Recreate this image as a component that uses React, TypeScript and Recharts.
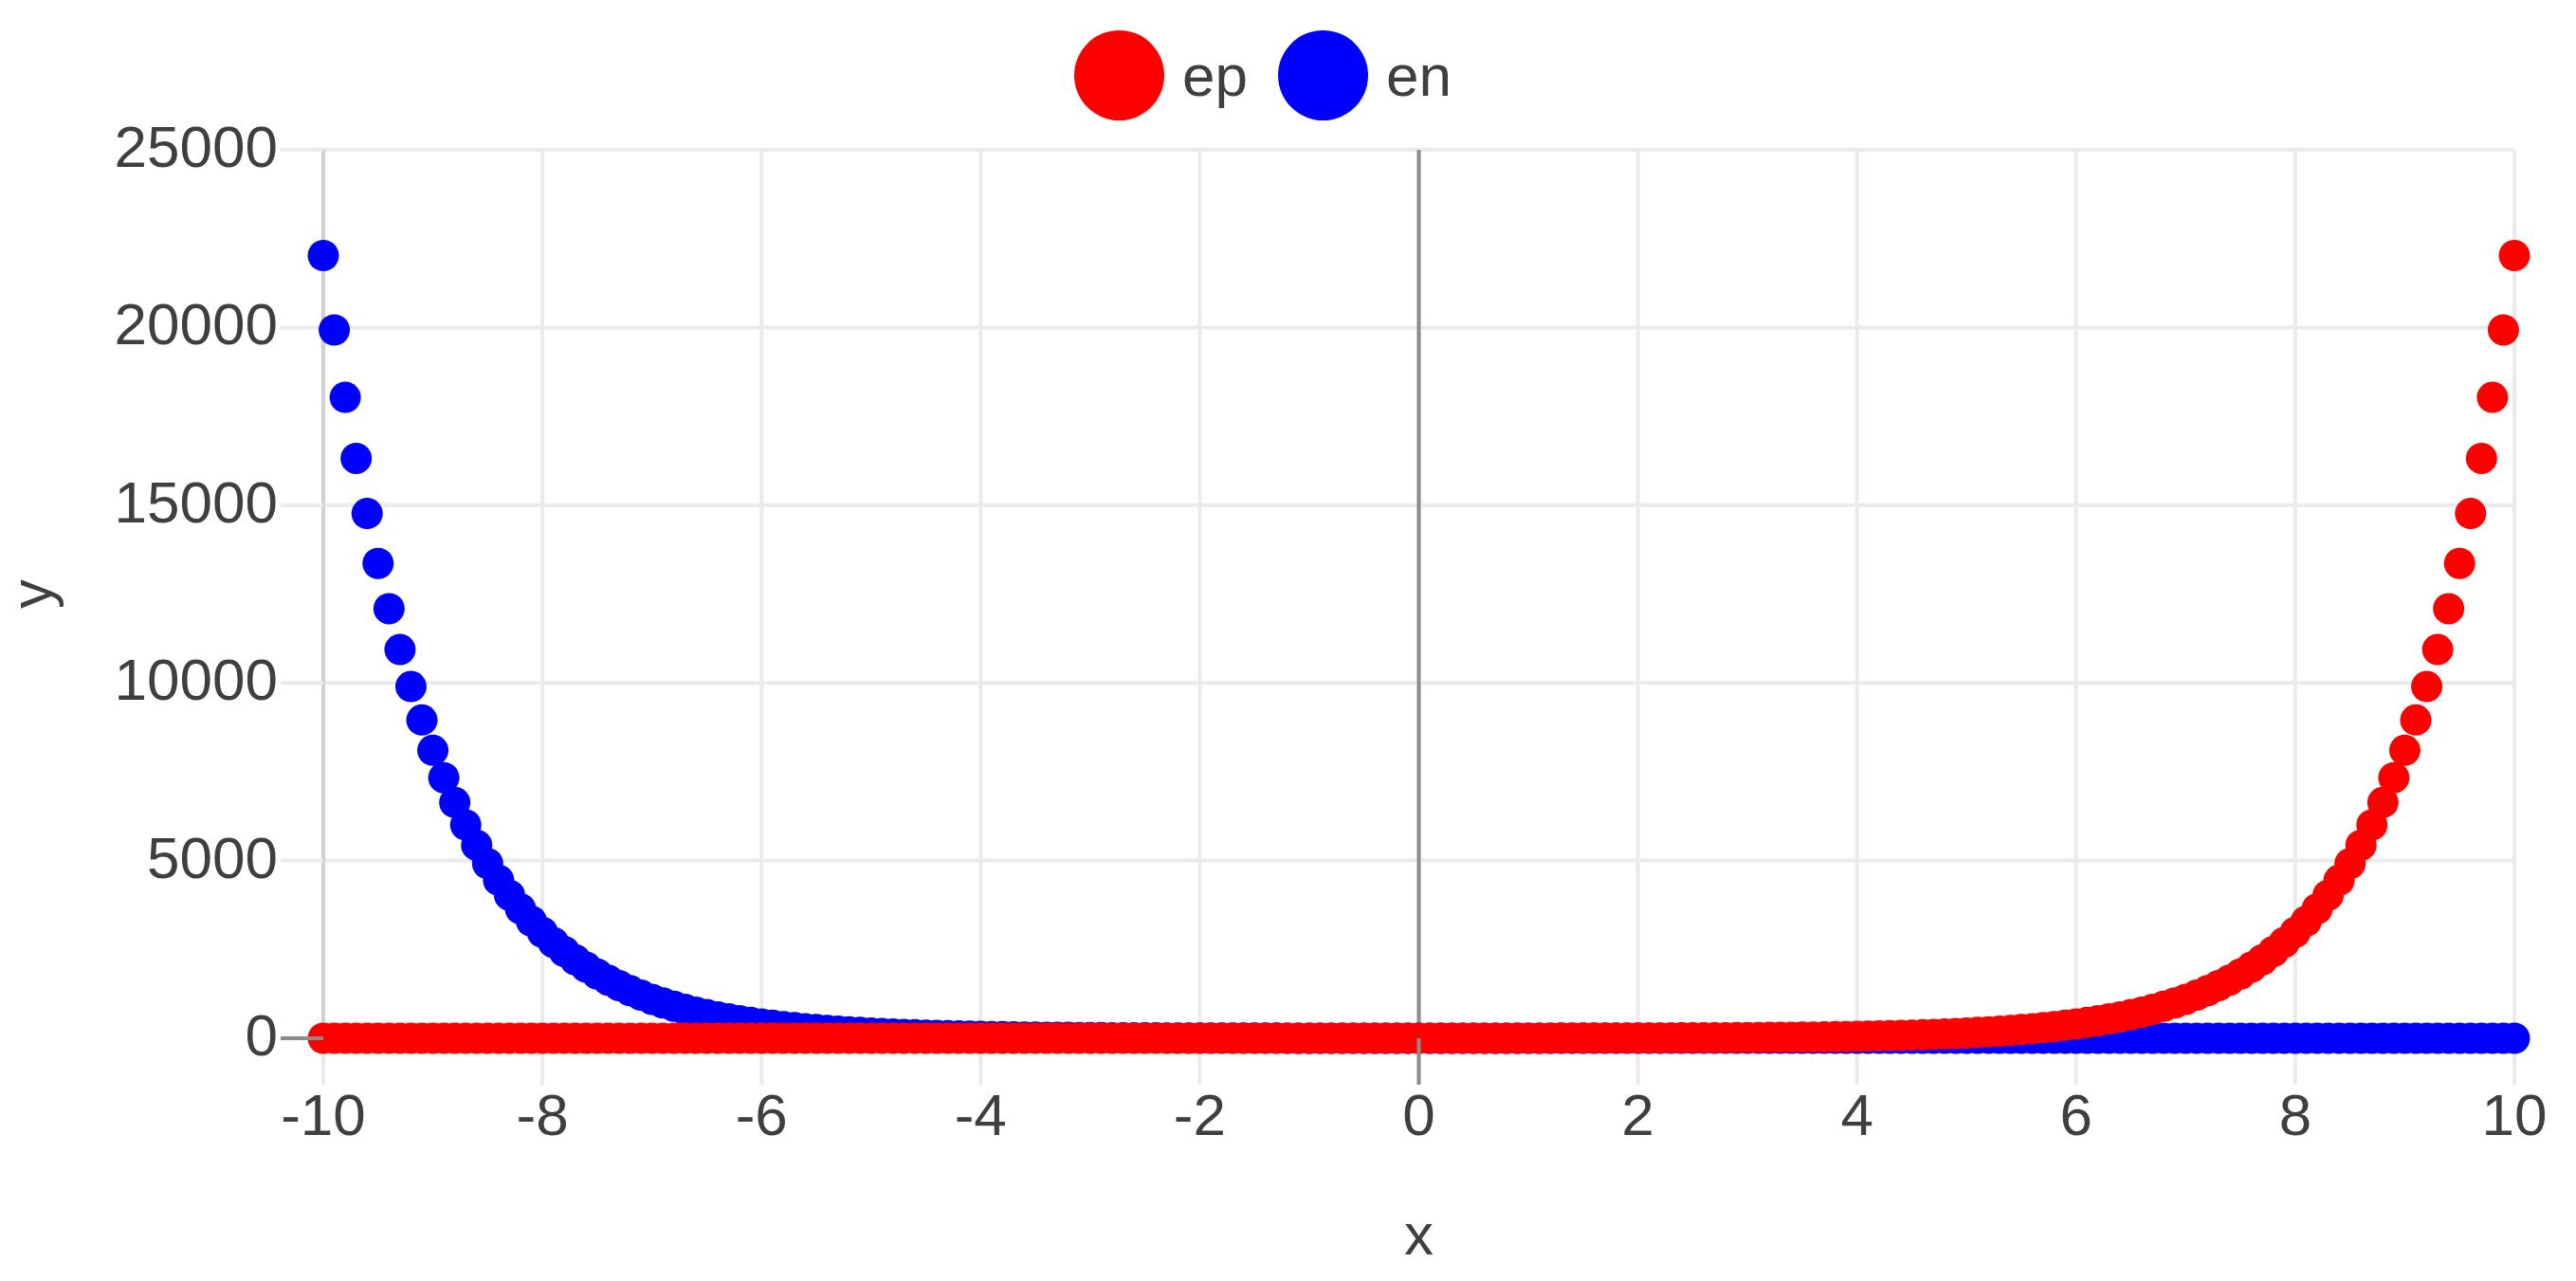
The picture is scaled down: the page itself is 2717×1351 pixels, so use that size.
import React from 'react';
import { ScatterChart, Scatter, XAxis, YAxis, CartesianGrid, Legend } from 'recharts';

const xs = [
  -10, -9.9, -9.8, -9.7, -9.6, -9.5, -9.4, -9.3, -9.2, -9.1,
  -9, -8.9, -8.8, -8.7, -8.6, -8.5, -8.4, -8.3, -8.2, -8.1,
  -8, -7.9, -7.8, -7.7, -7.6, -7.5, -7.4, -7.3, -7.2, -7.1,
  -7, -6.9, -6.8, -6.7, -6.6, -6.5, -6.4, -6.3, -6.2, -6.1,
  -6, -5.9, -5.8, -5.7, -5.6, -5.5, -5.4, -5.3, -5.2, -5.1,
  -5, -4.9, -4.8, -4.7, -4.6, -4.5, -4.4, -4.3, -4.2, -4.1,
  -4, -3.9, -3.8, -3.7, -3.6, -3.5, -3.4, -3.3, -3.2, -3.1,
  -3, -2.9, -2.8, -2.7, -2.6, -2.5, -2.4, -2.3, -2.2, -2.1,
  -2, -1.9, -1.8, -1.7, -1.6, -1.5, -1.4, -1.3, -1.2, -1.1,
  -1, -0.9, -0.8, -0.7, -0.6, -0.5, -0.4, -0.3, -0.2, -0.1,
  0, 0.1, 0.2, 0.3, 0.4, 0.5, 0.6, 0.7, 0.8, 0.9,
  1, 1.1, 1.2, 1.3, 1.4, 1.5, 1.6, 1.7, 1.8, 1.9,
  2, 2.1, 2.2, 2.3, 2.4, 2.5, 2.6, 2.7, 2.8, 2.9,
  3, 3.1, 3.2, 3.3, 3.4, 3.5, 3.6, 3.7, 3.8, 3.9,
  4, 4.1, 4.2, 4.3, 4.4, 4.5, 4.6, 4.7, 4.8, 4.9,
  5, 5.1, 5.2, 5.3, 5.4, 5.5, 5.6, 5.7, 5.8, 5.9,
  6, 6.1, 6.2, 6.3, 6.4, 6.5, 6.6, 6.7, 6.8, 6.9,
  7, 7.1, 7.2, 7.3, 7.4, 7.5, 7.6, 7.7, 7.8, 7.9,
  8, 8.1, 8.2, 8.3, 8.4, 8.5, 8.6, 8.7, 8.8, 8.9,
  9, 9.1, 9.2, 9.3, 9.4, 9.5, 9.6, 9.7, 9.8, 9.9,
  10,
];

const ep = [
  0, 0, 0, 0, 0, 0, 0, 0, 0, 0,
  0, 0, 0, 0, 0, 0, 0, 0, 0, 0,
  0, 0, 0, 0, 0, 0, 0, 0, 0, 0,
  0, 0, 0, 0, 0, 0, 0, 0, 0, 0,
  0, 0, 0, 0, 0, 0, 0, 0, 0, 0,
  0, 0, 0, 0, 0.01, 0.01, 0.01, 0.01, 0.01, 0.02,
  0.02, 0.02, 0.02, 0.02, 0.03, 0.03, 0.03, 0.04, 0.04, 0.05,
  0.05, 0.06, 0.06, 0.07, 0.07, 0.08, 0.09, 0.1, 0.11, 0.12,
  0.14, 0.15, 0.17, 0.18, 0.2, 0.22, 0.25, 0.27, 0.3, 0.33,
  0.37, 0.41, 0.45, 0.5, 0.55, 0.61, 0.67, 0.74, 0.82, 0.9,
  1, 1.11, 1.22, 1.35, 1.49, 1.65, 1.82, 2.01, 2.23, 2.46,
  2.72, 3.0, 3.32, 3.67, 4.06, 4.48, 4.95, 5.47, 6.05, 6.69,
  7.39, 8.17, 9.03, 9.97, 11.0, 12.2, 13.5, 14.9, 16.4, 18.2,
  20.1, 22.2, 24.5, 27.1, 30.0, 33.1, 36.6, 40.4, 44.7, 49.4,
  54.6, 60.3, 66.7, 73.7, 81.5, 90.0, 99.5, 110, 122, 134,
  148, 164, 181, 200, 221, 245, 270, 299, 330, 365,
  403, 446, 493, 545, 602, 665, 735, 812, 898, 992,
  1097, 1212, 1339, 1480, 1636, 1808, 1998, 2208, 2441, 2697,
  2981, 3294, 3641, 4024, 4447, 4915, 5432, 6003, 6634, 7332,
  8103, 8955, 9897, 10938, 12088, 13360, 14765, 16318, 18034, 19930,
  22026,
];

const en = [
  22026, 19930, 18034, 16318, 14765, 13360, 12088, 10938, 9897, 8955,
  8103, 7332, 6634, 6003, 5432, 4915, 4447, 4024, 3641, 3294,
  2981, 2697, 2441, 2208, 1998, 1808, 1636, 1480, 1339, 1212,
  1097, 992, 898, 812, 735, 665, 602, 545, 493, 446,
  403, 365, 330, 299, 270, 245, 221, 200, 181, 164,
  148, 134, 122, 110, 99.5, 90.0, 81.5, 73.7, 66.7, 60.3,
  54.6, 49.4, 44.7, 40.4, 36.6, 33.1, 30.0, 27.1, 24.5, 22.2,
  20.1, 18.2, 16.4, 14.9, 13.5, 12.2, 11.0, 9.97, 9.03, 8.17,
  7.39, 6.69, 6.05, 5.47, 4.95, 4.48, 4.06, 3.67, 3.32, 3.0,
  2.72, 2.46, 2.23, 2.01, 1.82, 1.65, 1.49, 1.35, 1.22, 1.11,
  1, 0.9, 0.82, 0.74, 0.67, 0.61, 0.55, 0.5, 0.45, 0.41,
  0.37, 0.33, 0.3, 0.27, 0.25, 0.22, 0.2, 0.18, 0.17, 0.15,
  0.14, 0.12, 0.11, 0.1, 0.09, 0.08, 0.07, 0.07, 0.06, 0.06,
  0.05, 0.05, 0.04, 0.04, 0.03, 0.03, 0.03, 0.02, 0.02, 0.02,
  0.02, 0.02, 0.01, 0.01, 0.01, 0.01, 0.01, 0, 0, 0,
  0, 0, 0, 0, 0, 0, 0, 0, 0, 0,
  0, 0, 0, 0, 0, 0, 0, 0, 0, 0,
  0, 0, 0, 0, 0, 0, 0, 0, 0, 0,
  0, 0, 0, 0, 0, 0, 0, 0, 0, 0,
  0, 0, 0, 0, 0, 0, 0, 0, 0, 0,
  0,
];

const xTicks = [-10, -8, -6, -4, -2, 0, 2, 4, 6, 8, 10];
const yTicks = [0, 5000, 10000, 15000, 20000, 25000];
const zeroX = [0];
const seriesNames = ['ep', 'en'];
const seriesColors = ['#ff0000', '#0000ff'];

const FONT = '"Liberation Sans", Arial, Helvetica, sans-serif';
const TEXT = '#3f3f3f';
const GRID = '#ebebeb';
const ZERO = '#8c8c8c';
const FS = 62;

const epData = xs.map((x, i) => ({ x, y: ep[i] }));
const enData = xs.map((x, i) => ({ x, y: en[i] }));

const Dot = (color: string) => (props: any) => (
  <circle cx={props.cx} cy={props.cy} r={16.5} fill={color} />
);

const XTick = (props: any) => {
  const { x, y, payload } = props;
  return (
    <g>
      {payload.value === 0 && (
        <line x1={x} x2={x} y1={y - 12 - 49} y2={y - 12} stroke={ZERO} strokeWidth={4} />
      )}
      <text x={x} y={y + 41} textAnchor="middle" fill={TEXT} fontSize={FS} fontFamily={FONT}>
        {payload.value}
      </text>
    </g>
  );
};

const YTick = (props: any) => {
  const { x, y, payload } = props;
  return (
    <g>
      {payload.value === 0 && (
        <line x1={x + 3} x2={x + 48} y1={y} y2={y} stroke={ZERO} strokeWidth={4} />
      )}
      <text x={x} y={y + 18} textAnchor="end" fill={TEXT} fontSize={FS} fontFamily={FONT}>
        {payload.value}
      </text>
    </g>
  );
};

const XTitle = (props: any) => {
  const vb = props.viewBox || {};
  return (
    <text x={vb.x + vb.width / 2} y={1323} textAnchor="middle" fill={TEXT} fontSize={FS} fontFamily={FONT}>
      x
    </text>
  );
};

const YTitle = (props: any) => {
  const vb = props.viewBox || {};
  const cx = 54;
  const cy = vb.y + vb.height / 2;
  return (
    <text x={cx} y={cy} textAnchor="middle" transform={`rotate(-90, ${cx}, ${cy})`} fill={TEXT} fontSize={FS} fontFamily={FONT}>
      y
    </text>
  );
};

const LegendContent = () => (
  <div style={{ display: 'flex', alignItems: 'center', height: 95, fontFamily: FONT, fontSize: FS, color: TEXT }}>
    {seriesNames.map((n, i) => (
      <div key={n} style={{ display: 'flex', alignItems: 'center', marginRight: 32 }}>
        <div style={{ width: 95, height: 95, borderRadius: '50%', background: seriesColors[i], marginRight: 19 }} />
        <span style={{ lineHeight: 'normal' }}>{n}</span>
      </div>
    ))}
  </div>
);

export default function App() {
  return (
    <div style={{ position: 'absolute', left: 0, top: 0, width: 2717, height: 1351, background: '#fff' }}>
      <ScatterChart width={2717} height={1351} margin={{ top: 158, right: 65, bottom: 96, left: 0 }}>
        <CartesianGrid stroke={GRID} strokeWidth={4} horizontalValues={yTicks} verticalValues={xTicks} />
        <CartesianGrid stroke={ZERO} strokeWidth={4} horizontal={false} verticalValues={zeroX} />
        <XAxis
          type="number"
          dataKey="x"
          domain={[-10, 10]}
          ticks={xTicks}
          interval={0}
          height={160}
          tickSize={49}
          tickMargin={12}
          axisLine={{ stroke: ZERO, strokeWidth: 4 }}
          tickLine={{ stroke: GRID, strokeWidth: 4 }}
          tick={<XTick />}
          label={<XTitle />}
        />
        <YAxis
          type="number"
          dataKey="y"
          domain={[0, 25000]}
          ticks={yTicks}
          interval={0}
          width={341}
          tickSize={45}
          tickMargin={3}
          axisLine={{ stroke: '#d0d0d0', strokeWidth: 4 }}
          tickLine={{ stroke: GRID, strokeWidth: 4 }}
          tick={<YTick />}
          label={<YTitle />}
        />
        <Legend
          verticalAlign="middle"
          align="center"
          content={<LegendContent />}
          wrapperStyle={{ top: 32, left: 1133, width: 600, height: 95 }}
        />
        <Scatter name="en" data={enData} fill="#0000ff" shape={Dot('#0000ff')} isAnimationActive={false} />
        <Scatter name="ep" data={epData} fill="#ff0000" shape={Dot('#ff0000')} isAnimationActive={false} />
      </ScatterChart>
    </div>
  );
}
